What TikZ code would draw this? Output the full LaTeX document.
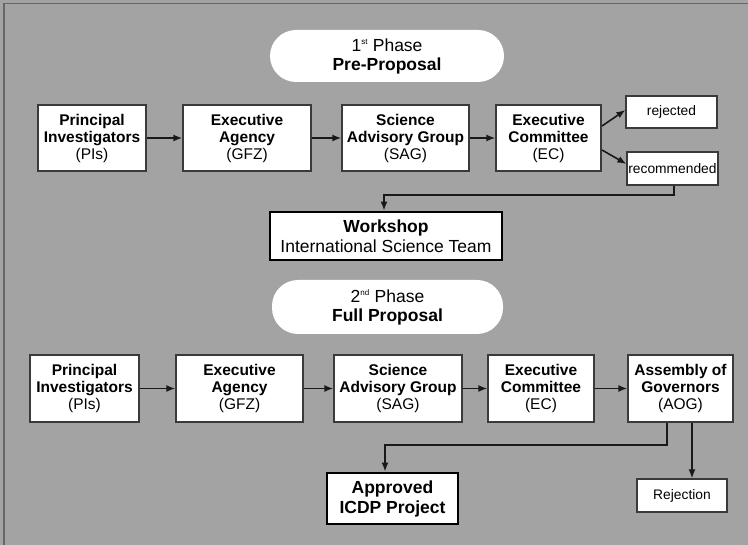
\documentclass[tikz,border=0pt]{standalone}
\usepackage{fontspec}
\setmainfont{Liberation Sans}
\usetikzlibrary{arrows.meta}
\definecolor{bg}{HTML}{A3A3A3}
\definecolor{edge}{HTML}{3A3A3A}
\begin{document}
\begin{tikzpicture}[x=1pt,y=-1pt,
  stage/.style={draw=edge,fill=white,line width=1.3pt,align=center,inner sep=0pt,
    minimum height=66pt,font=\fontsize{15.5}{17}\selectfont},
  small/.style={draw=edge,fill=white,line width=1.2pt,align=center,inner sep=0pt,
    font=\fontsize{13.8}{16}\selectfont},
  heavy/.style={draw=black,fill=white,line width=2.8pt,align=center,inner sep=0pt,
    font=\fontsize{17.5}{20}\selectfont},
  phase/.style={fill=white,rounded corners=26pt,align=center,inner sep=0pt,
    font=\fontsize{17.5}{19}\selectfont},
  arr/.style={draw=black!90,line width=1.6pt,-{Latex[length=9pt,width=7pt]}}]
\useasboundingbox (0,0) rectangle (748,545);
\fill[bg] (0,0) rectangle (748,545);
\draw[black!60,line width=1.2pt] (4,545) -- (4,3.5) -- (748,3.5);

% Phase 1
\node[phase,minimum width=234pt,minimum height=52pt] (ph1) at (387,56)
  {1\textsuperscript{\fontsize{8}{8}\selectfont st} Phase\\\textbf{Pre-Proposal}};
\node[stage,minimum width=108pt] (pi1) at (92,138)
  {\textbf{Principal}\\\textbf{Investigators}\\(PIs)};
\node[stage,minimum width=128pt] (ea1) at (247,138)
  {\textbf{Executive}\\\textbf{Agency}\\(GFZ)};
\node[stage,minimum width=127pt] (sag1) at (405.5,138)
  {\textbf{Science}\\\textbf{Advisory Group}\\(SAG)};
\node[stage,minimum width=105pt] (ec1) at (548.5,138)
  {\textbf{Executive}\\\textbf{Committee}\\(EC)};
\node[small,minimum width=91pt,minimum height=32pt] (rej) at (671.5,112) {rejected};
\node[small,minimum width=91pt,minimum height=33pt] (rec) at (672.5,168.5) {recommended};
\node[heavy,minimum width=232pt,minimum height=48pt] (ws) at (386,236)
  {\textbf{Workshop}\\International Science Team};

\draw[arr] (pi1) -- (ea1);
\draw[arr] (ea1) -- (sag1);
\draw[arr] (sag1) -- (ec1);
\coordinate (e1) at (602,126);
\coordinate (e2) at (602,150);
\draw[arr] (e1) -- (rej.south west |- 0,110);
\draw[arr] (e2) -- (rec.west |- 0,164);
\coordinate (r1) at (674,195);
\coordinate (r2) at (384,195);
\draw[arr] (rec.south -| r1) -- (r1) -- (r2) -- (ws.north -| r2);

% Phase 2
\node[phase,minimum width=231pt,minimum height=54pt] (ph2) at (387.5,307)
  {2\textsuperscript{\fontsize{8}{8}\selectfont nd} Phase\\\textbf{Full Proposal}};
\node[stage,minimum width=109pt,minimum height=67pt] (pi2) at (84.5,388.5)
  {\textbf{Principal}\\\textbf{Investigators}\\(PIs)};
\node[stage,minimum width=127pt,minimum height=67pt] (ea2) at (239.5,388.5)
  {\textbf{Executive}\\\textbf{Agency}\\(GFZ)};
\node[stage,minimum width=128pt,minimum height=67pt] (sag2) at (398,388.5)
  {\textbf{Science}\\\textbf{Advisory Group}\\(SAG)};
\node[stage,minimum width=106pt,minimum height=67pt] (ec2) at (541,388.5)
  {\textbf{Executive}\\\textbf{Committee}\\(EC)};
\node[stage,minimum width=105pt,minimum height=67pt] (aog) at (680.5,388.5)
  {\textbf{Assembly of}\\\textbf{Governors}\\(AOG)};
\node[heavy,minimum width=131pt,minimum height=51pt] (app) at (392.5,498.5)
  {\textbf{Approved}\\\textbf{ICDP Project}};
\node[small,minimum width=90pt,minimum height=33pt] (rjn) at (682,495.5) {Rejection};

\draw[arr] (pi2) -- (ea2);
\draw[arr] (ea2) -- (sag2);
\draw[arr] (sag2) -- (ec2);
\draw[arr] (ec2) -- (aog);
\coordinate (a1) at (667,445);
\coordinate (a2) at (385,445);
\draw[arr] (aog.south -| a1) -- (a1) -- (a2) -- (app.north -| a2);
\coordinate (a3) at (692,445);
\draw[arr] (aog.south -| a3) -- (rjn.north -| a3);
\end{tikzpicture}
\end{document}
